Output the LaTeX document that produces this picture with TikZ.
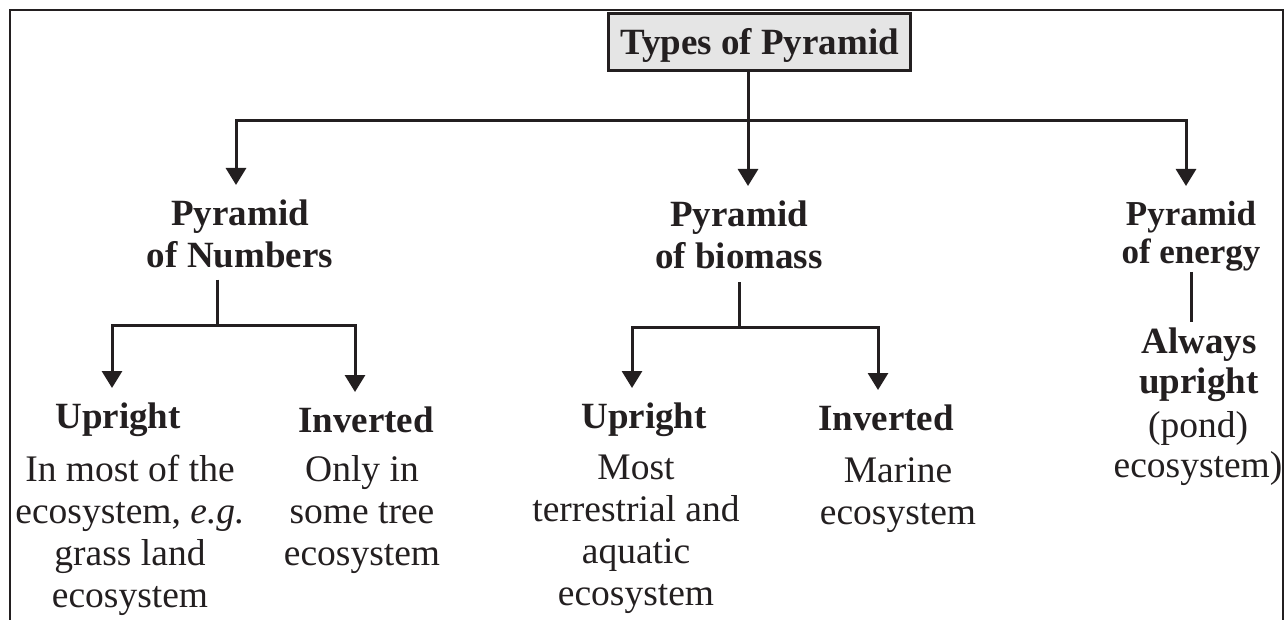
\documentclass[tikz,border=0pt]{standalone}
\usepackage{fontspec}
\usepackage{tikz}
\usetikzlibrary{arrows.meta}
\setmainfont{Liberation Serif}
\definecolor{ink}{RGB}{35,31,32}
\tikzset{box/.style = {draw=ink, line width=3pt, fill=black!10, inner sep=0pt, minimum width=302pt, minimum height=57pt, text depth=3pt, font=\fontsize{37}{42}\selectfont\bfseries}}
\tikzset{head/.style = {align=center, inner sep=0pt, anchor=north, font=\fontsize{37}{42}\selectfont\bfseries}}
\tikzset{body/.style = {align=center, inner sep=0pt, anchor=north, font=\fontsize{37.5}{42}\selectfont}}
\tikzset{link/.style = {draw=ink, line width=3pt}}
\tikzset{arr/.style = {link, -{Triangle[length=17pt, width=20pt]}, shorten >=15pt}}

\begin{document}
\begin{tikzpicture}[x=1pt, y=-1pt, color=ink]
    \useasboundingbox (0, 0) rectangle (1288, 620);
    \draw [line width=2.5pt] (10, 640) -- (10, 10) -- (1283, 10) -- (1283, 640);

    \node [box] (title) at (759.5, 42.5) {Types of Pyramid};

    % first level
    \node [head] (num) at (240, 200) {Pyramid\\of Numbers};
    \node [head] (bio) at (739, 201) {Pyramid\\of biomass};
    \node [head, font=\fontsize{35}{38.5}\selectfont\bfseries] (en) at (1191, 201) {Pyramid\\of energy};

    % second level
    \node [head] (nup) at (118, 403) {Upright};
    \node [body] (nupt) at (130, 455) {In most of the\\ecosystem, \textit{e.g.}\\grass land\\ecosystem};
    \node [head] (ninv) at (366, 407) {Inverted};
    \node [body] (ninvt) at (362, 455) {Only in\\some tree\\ecosystem};
    \node [head] (bup) at (644, 403) {Upright};
    \node [body] (bupt) at (636, 455) {Most\\terrestrial and\\aquatic\\ecosystem};
    \node [head] (binv) at (886, 405) {Inverted};
    \node [body] (binvt) at (898, 457) {Marine\\ecosystem};
    \node [head, font=\fontsize{37}{40}\selectfont\bfseries] (alw) at (1199, 328) {Always\\upright};
    \node [body, font=\fontsize{37.5}{40}\selectfont] (alwt) at (1198, 411) {(pond)\\ecosystem)};

    \coordinate (top) at (748, 121);
    \coordinate (nsplit) at (217, 326);
    \coordinate (bsplit) at (739, 328);

    \draw [link] ([xshift=-11.5pt]title.south) -- (top);
    \draw [arr] (top) -| ([xshift=-4pt]num.north);
    \draw [arr] (top) -- (top |- bio.north);
    \draw [arr] (top) -| ([xshift=-5pt]en.north);

    \draw [link, shorten <=11pt] (nsplit |- num.south) -- (nsplit);
    \draw [arr] (nsplit) -| ([xshift=-6pt]nup.north);
    \draw [arr] (nsplit) -| ([xshift=-11pt]ninv.north);

    \draw [link, shorten <=13pt] (bsplit |- bio.south) -- (bsplit);
    \draw [arr] (bsplit) -| ([xshift=-12pt]bup.north);
    \draw [arr] (bsplit) -| ([xshift=-8pt]binv.north);

    \draw [link, shorten >=6pt] (en.south) -- (en.south |- alw.north);
  \end{tikzpicture}
\end{document}
